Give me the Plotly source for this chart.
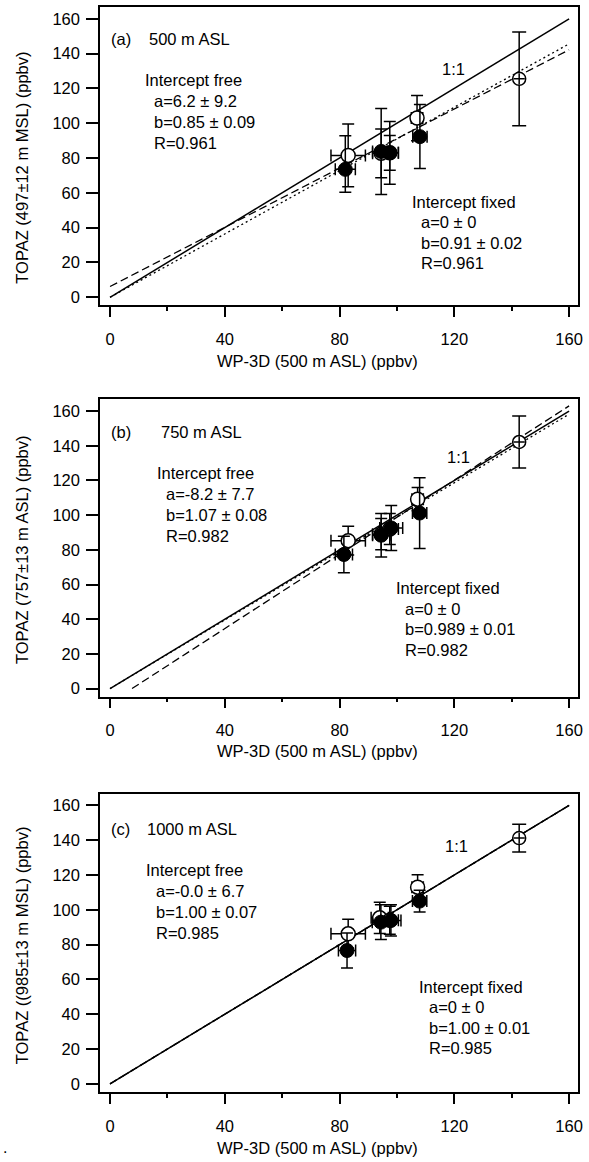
import plotly.graph_objects as go

# ---------------- data ----------------
panels = ["a", "b", "c"]

open_x = {"a": [83, 94.5, 97.5, 107], "b": [83, 94.5, 97.5, 107.2], "c": [83, 94, 97.5, 107.2]}
open_y = {"a": [81.5, 82.7, 83, 103], "b": [85.3, 89, 92, 109.2], "c": [86.2, 95.4, 94, 113]}
open_yerr = {"a": [18, 14, 10, 13], "b": [8.3, 9, 9, 6.7], "c": [8.3, 9, 8, 7.1]}
open_xerr = {"a": [6, 3, 3, 2], "b": [6, 3, 3, 2], "c": [6, 3, 3, 2]}

fill_x = {"a": [82, 94.5, 97.5, 108], "b": [81.5, 94.5, 98, 107.9], "c": [82.6, 94.4, 97.9, 107.9]}
fill_y = {"a": [73.5, 83.8, 83, 92.3], "b": [77.3, 88.4, 92.6, 101.2], "c": [76.6, 92.9, 93.9, 105]}
fill_yerr_plus = {"a": [19.3, 24.7, 18, 18.5], "b": [10.5, 12.6, 13, 20.4], "c": [10, 10, 9, 6.3]}
fill_yerr_minus = {"a": [13.2, 24.7, 18, 18.3], "b": [10.5, 12.6, 13, 20.4], "c": [10, 10, 9, 6.3]}
fill_xerr = {"a": [3.5, 3, 3, 2.5], "b": [3, 3, 4, 2.5], "c": [3, 3, 3.5, 2.5]}

special_x = {"a": [142.6], "b": [142.6], "c": [142.6]}
special_y = {"a": [125.5], "b": [142.2], "c": [141.2]}
special_yerr = {"a": [27], "b": [15], "c": [8]}

free_a = {"a": 6.2, "b": -8.2, "c": -0.0}
free_b = {"a": 0.85, "b": 1.07, "c": 1.00}
fixed_b = {"a": 0.91, "b": 0.989, "c": 1.00}

heights = {"a": "500 m ASL", "b": "750 m ASL", "c": "1000 m ASL"}
ytitles = {"a": "TOPAZ (497±12 m MSL) (ppbv)", "b": "TOPAZ (757±13 m ASL) (ppbv)",
           "c": "TOPAZ ((985±13 m MSL) (ppbv)"}
free_txt = {"a": ["a=6.2 ± 9.2", "b=0.85 ± 0.09", "R=0.961"],
            "b": ["a=-8.2 ± 7.7", "b=1.07 ± 0.08", "R=0.982"],
            "c": ["a=-0.0 ± 6.7", "b=1.00 ± 0.07", "R=0.985"]}
fixed_txt = {"a": ["a=0 ± 0", "b=0.91 ± 0.02", "R=0.961"],
             "b": ["a=0 ± 0", "b=0.989 ± 0.01", "R=0.982"],
             "c": ["a=0 ± 0", "b=1.00 ± 0.01", "R=0.985"]}
xtitle = "WP-3D (500 m ASL) (ppbv)"
xticks = [0, 40, 80, 120, 160]
yticks = [0, 20, 40, 60, 80, 100, 120, 140, 160]
line_x_end = 160

# ---------------- layout helpers ----------------
W, H = 589, 1162
ML, MR, MT, MB = 100, 11, 5, 70
PW, PH = W - ML - MR, H - MT - MB
FONT = "Liberation Sans, Arial, sans-serif"


def px(xp):
    return (xp - ML) / PW


def py(yp):
    return (H - MB - yp) / PH


frames = {"a": (5, 304), "b": (398, 696), "c": (793, 1092)}
pos = {
    "a": dict(lab=(109, 37), hgt=(147, 37), one=(440, 67), free=(142.7, 78.3), free_in=152.3,
              fixed=(410, 200), fixed_in=419.3, ytc=166, xtc=360),
    "b": dict(lab=(109, 431), hgt=(159, 431), one=(445, 456), free=(155, 472.3), free_in=164,
              fixed=(394.3, 587.3), fixed_in=403.3, ytc=549, xtc=750),
    "c": dict(lab=(109, 829), hgt=(145, 829), one=(443, 846), free=(144.3, 870), free_in=154,
              fixed=(416.7, 986.7), fixed_in=426.7, ytc=945, xtc=1148),
}

fig = go.Figure()
annotations = []
BLACK = "black"

for i, p in enumerate(panels):
    n = "" if i == 0 else str(i + 1)
    xa, ya = "x" + n, "y" + n
    # 1:1 line
    fig.add_trace(go.Scatter(x=[0, line_x_end], y=[0, line_x_end], mode="lines",
                             line=dict(color=BLACK, width=1.5), xaxis=xa, yaxis=ya))
    # intercept free fit (dashed)
    x0 = max(0.0, -free_a[p] / free_b[p])
    fig.add_trace(go.Scatter(x=[x0, line_x_end],
                             y=[free_a[p] + free_b[p] * x0, free_a[p] + free_b[p] * line_x_end],
                             mode="lines", line=dict(color=BLACK, width=1.3, dash="8px,4px"),
                             xaxis=xa, yaxis=ya))
    # intercept fixed fit (dotted)
    fig.add_trace(go.Scatter(x=[0, line_x_end], y=[0, fixed_b[p] * line_x_end], mode="lines",
                             line=dict(color=BLACK, width=1.3, dash="2px,3px"),
                             xaxis=xa, yaxis=ya))
    # open circles
    fig.add_trace(go.Scatter(x=open_x[p], y=open_y[p], mode="markers",
                             marker=dict(symbol="circle", size=14, color="white",
                                         line=dict(color=BLACK, width=1.5)),
                             error_y=dict(type="data", array=open_yerr[p], color=BLACK,
                                          thickness=1.5, width=6),
                             error_x=dict(type="data", array=open_xerr[p], color=BLACK,
                                          thickness=1.5, width=6),
                             xaxis=xa, yaxis=ya))
    # filled circles
    fig.add_trace(go.Scatter(x=fill_x[p], y=fill_y[p], mode="markers",
                             marker=dict(symbol="circle", size=14, color=BLACK,
                                         line=dict(color=BLACK, width=1)),
                             error_y=dict(type="data", array=fill_yerr_plus[p],
                                          arrayminus=fill_yerr_minus[p], symmetric=False,
                                          color=BLACK, thickness=1.5, width=6),
                             error_x=dict(type="data", array=fill_xerr[p], color=BLACK,
                                          thickness=1.5, width=6),
                             xaxis=xa, yaxis=ya))
    # special point: open circle with small plus inside
    fig.add_trace(go.Scatter(x=special_x[p], y=special_y[p], mode="markers",
                             marker=dict(symbol="circle", size=13, color="white",
                                         line=dict(color=BLACK, width=1.5)),
                             error_y=dict(type="data", array=special_yerr[p], color=BLACK,
                                          thickness=1.5, width=7),
                             xaxis=xa, yaxis=ya))
    fig.add_trace(go.Scatter(x=special_x[p], y=special_y[p], mode="markers",
                             marker=dict(symbol="cross-thin", size=8, color=BLACK,
                                         line=dict(color=BLACK, width=1.5)),
                             xaxis=xa, yaxis=ya))

    top, bot = frames[p]
    dom = [py(bot), py(top)]
    ax_common = dict(showline=True, mirror=True, linecolor=BLACK, linewidth=1.5,
                     showgrid=False, zeroline=False, ticks="outside", tickcolor=BLACK,
                     tickfont=dict(family=FONT, size=16.5, color=BLACK))
    fig.layout["xaxis" + n] = dict(ax_common, domain=[0, 1], range=[-3.5, 163.1],
                                   tickmode="array", tickvals=xticks, ticklen=10, tickwidth=1.5,
                                   ticklabelstandoff=8,
                                   minor=dict(ticks="outside", ticklen=4, dtick=20, tick0=0,
                                              tickcolor=BLACK, tickwidth=1.5),
                                   anchor=ya)
    fig.layout["yaxis" + n] = dict(ax_common, domain=dom, range=[-4.7, 166.8],
                                   tickmode="array", tickvals=yticks, ticklen=12, tickwidth=1.5,
                                   ticklabelstandoff=3, anchor=xa)

    P = pos[p]
    tf = dict(family=FONT, size=16.5, color=BLACK)

    def add(text, xp, yp, xanchor="left", angle=0):
        annotations.append(dict(text=text, x=px(xp), y=py(yp), xref="paper", yref="paper",
                                xanchor=xanchor, yanchor="middle", showarrow=False,
                                font=tf, textangle=angle))

    add("(" + p + ")", *P["lab"])
    add(heights[p], *P["hgt"])
    add("1:1", *P["one"])
    fx, fy = P["free"]
    add("Intercept free", fx, fy)
    for k, t in enumerate(free_txt[p]):
        add(t, P["free_in"], fy + 21 * (k + 1))
    gx, gy = P["fixed"]
    add("Intercept fixed", gx, gy)
    for k, t in enumerate(fixed_txt[p]):
        add(t, P["fixed_in"], gy + 20.5 * (k + 1))
    add(xtitle, 317, P["xtc"], xanchor="center")
    add(ytitles[p], 22, P["ytc"], xanchor="center", angle=-90)

annotations.append(dict(text=".", x=px(5), y=py(1148), xref="paper", yref="paper",
                        xanchor="center", yanchor="middle", showarrow=False,
                        font=dict(family=FONT, size=16, color=BLACK)))

fig.update_layout(width=W, height=H, margin=dict(l=ML, r=MR, t=MT, b=MB),
                  paper_bgcolor="white", plot_bgcolor="white", showlegend=False,
                  annotations=annotations, font=dict(family=FONT, color=BLACK))

fig.write_html("out.html")
